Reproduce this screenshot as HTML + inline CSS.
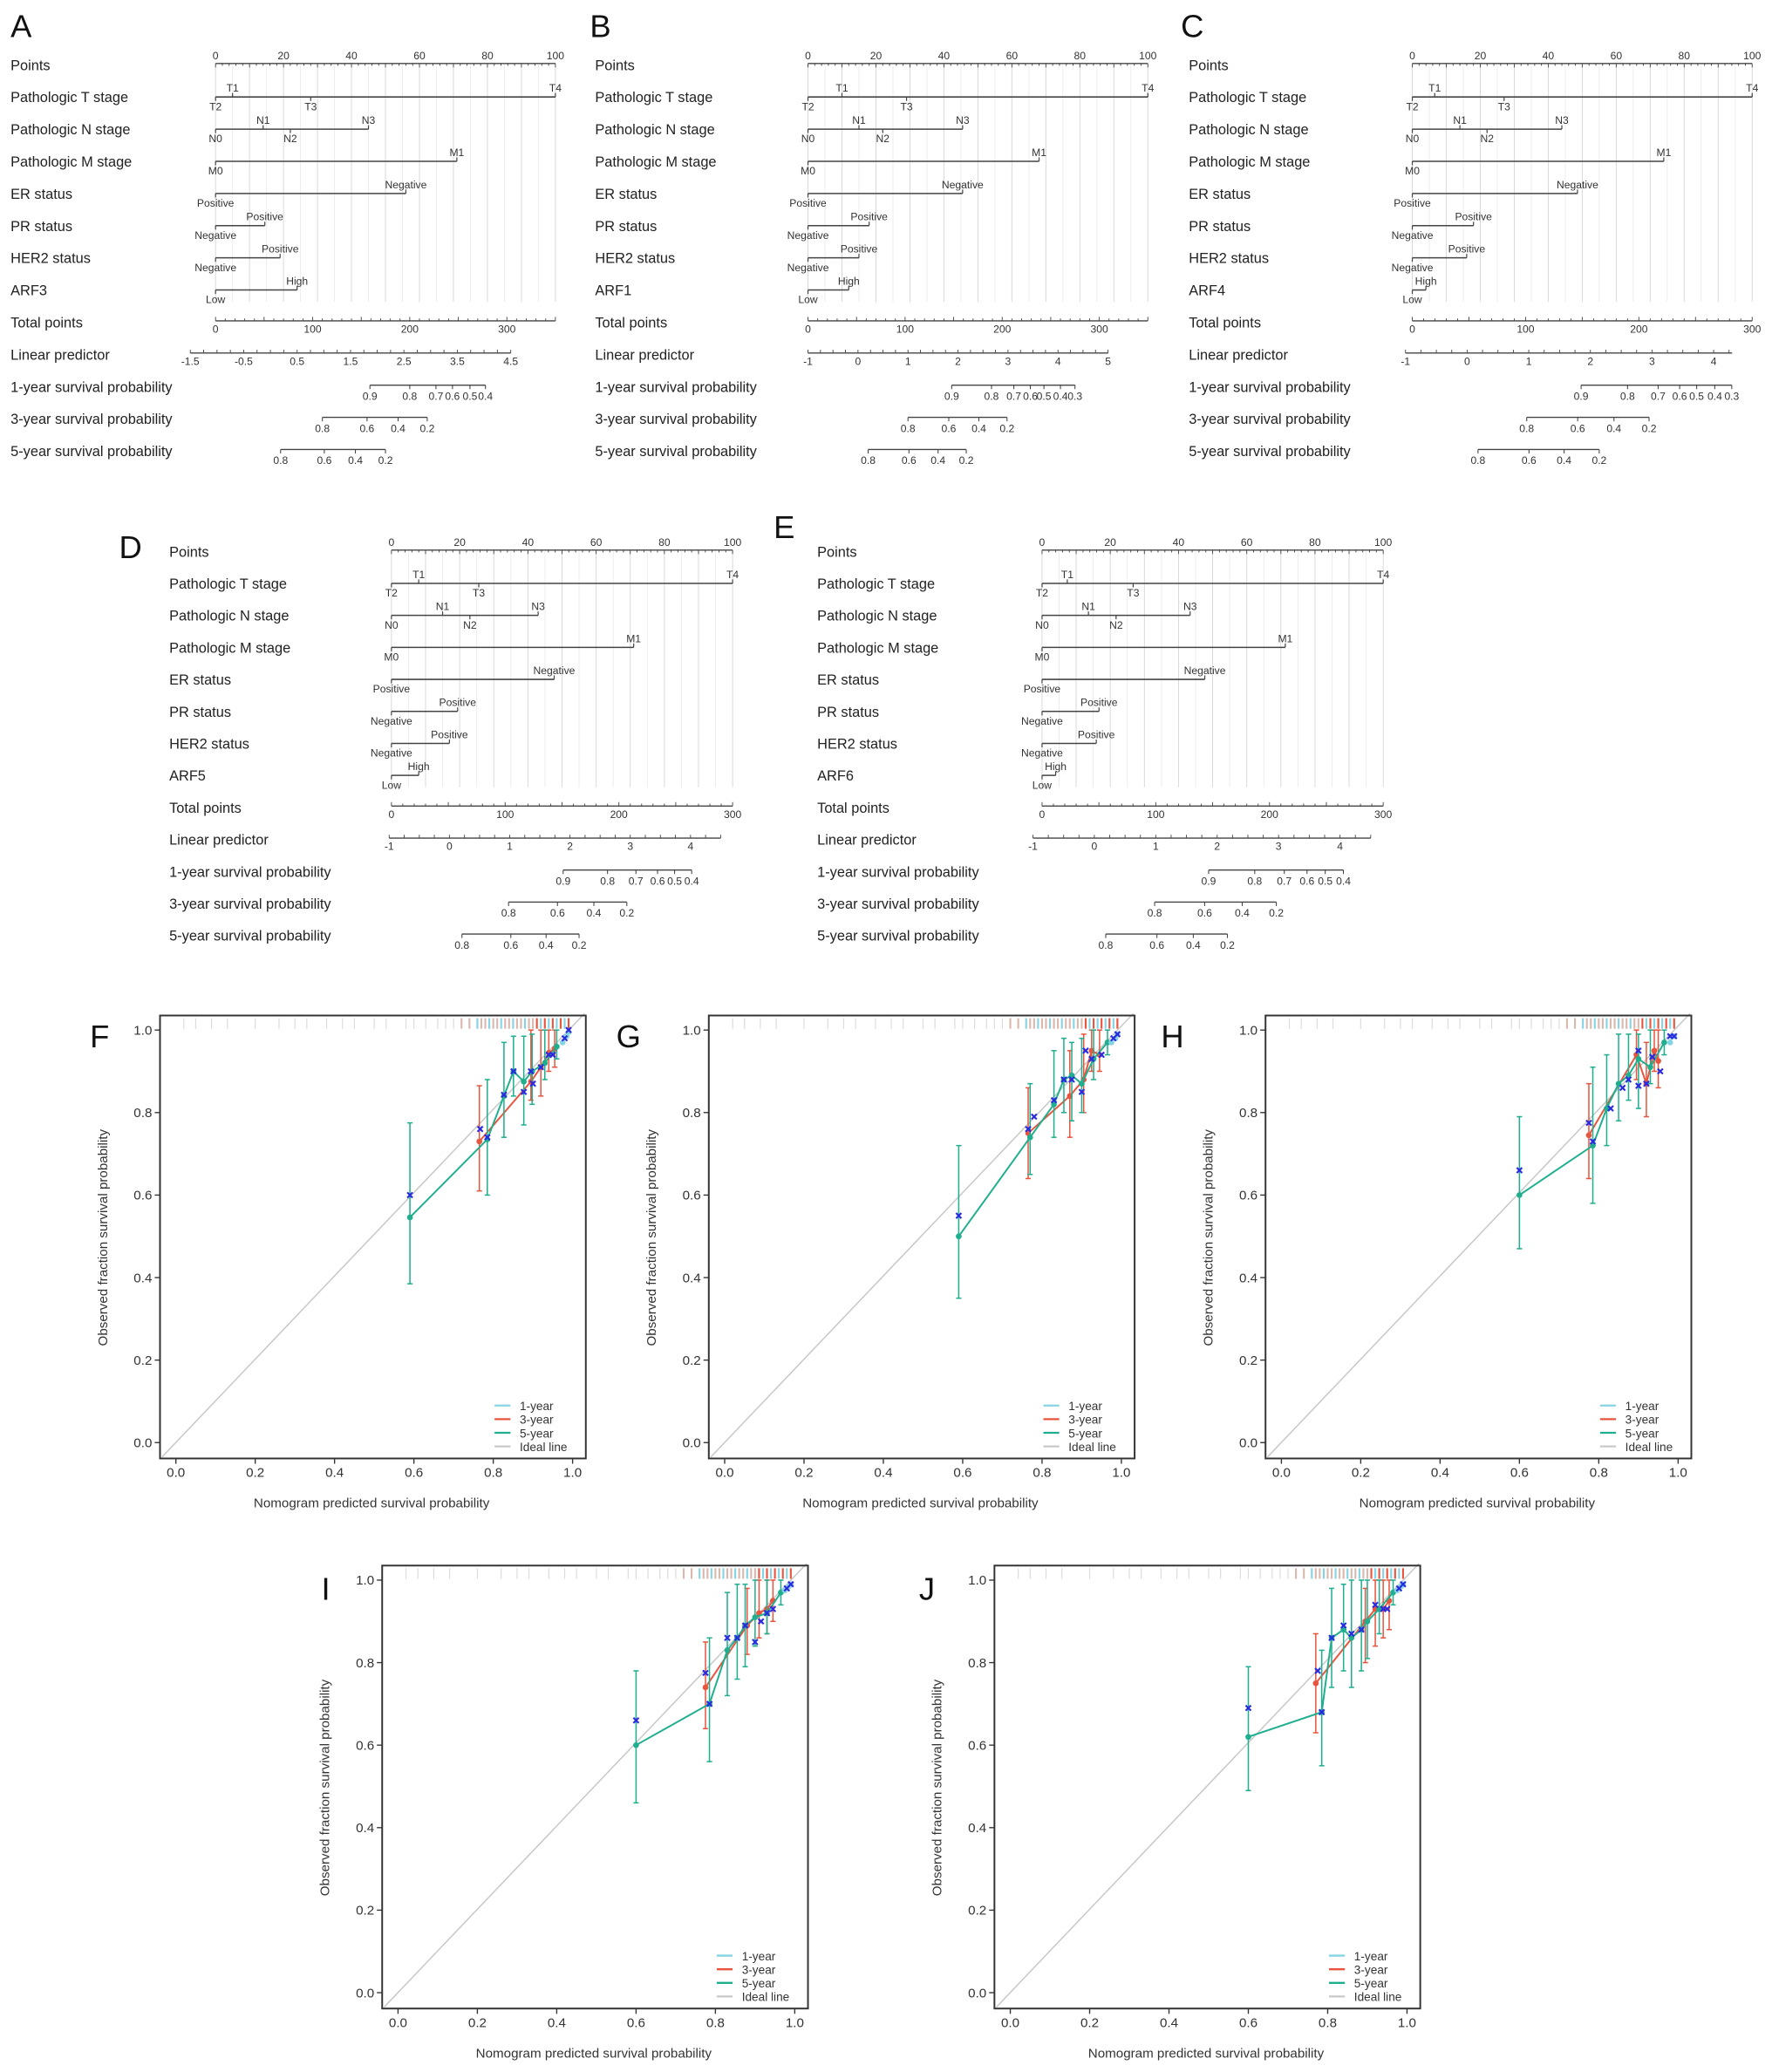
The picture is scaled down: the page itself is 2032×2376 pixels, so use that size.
<!DOCTYPE html>
<html><head><meta charset="utf-8"><style>
html,body{margin:0;padding:0;background:#fff}
svg{display:block;font-family:"Liberation Sans",sans-serif}
</style></head><body>
<svg id="fig" xmlns="http://www.w3.org/2000/svg" width="2032" height="2376" viewBox="0 0 1340 1567" preserveAspectRatio="none"></svg>
<script>
// ---------- Nomogram data ----------
const rowLabels = ["Points","Pathologic T stage","Pathologic N stage","Pathologic M stage","ER status","PR status","HER2 status","__ARF","Total points","Linear predictor","1-year survival probability","3-year survival probability","5-year survival probability"];
const tLevels = ["T2","T1","T3","T4"], tPos = ["b","a","b","a"];
const nLevels = ["N0","N1","N2","N3"], nPos = ["b","a","b","a"];
const mLevels = ["M0","M1"], mPos = ["b","a"];
const erLevels = ["Positive","Negative"], erPos = ["b","a"];
const prLevels = ["Negative","Positive"], prPos = ["b","a"];
const herLevels = ["Negative","Positive"], herPos = ["b","a"];
const arfLevels = ["Low","High"], arfPos = ["b","a"];
const panelNames = ["A","B","C","D","E"];
const arfNames = ["ARF3","ARF1","ARF4","ARF5","ARF6"];
const tPts = [[0,5,28,100],[0,10,29,100],[0,6.6,27,100],[0,8,25.6,100],[0,7.4,26.7,100]];
const nPts = [[0,14,22,45],[0,15,22,45.5],[0,14,22,44],[0,15,23,43],[0,13.6,21.7,43.4]];
const mPts = [[0,71],[0,68],[0,74],[0,71],[0,71.3]];
const erPts = [[0,56],[0,45.5],[0,48.6],[0,47.7],[0,47.7]];
const prPts = [[0,14.5],[0,18],[0,18],[0,19.4],[0,16.7]];
const herPts = [[0,19],[0,15],[0,16],[0,17],[0,15.9]];
const arfPts = [[0,24],[0,12],[0,4],[0,8],[0,4]];
const totalMax = [350,350,300,300,300];
const totalTicks = [[0,100,200,300],[0,100,200,300],[0,100,200,300],[0,100,200,300],[0,100,200,300]];
const lpLabels = [["-1.5","-0.5","0.5","1.5","2.5","3.5","4.5"],["-1","0","1","2","3","4","5"],["-1","0","1","2","3","4"],["-1","0","1","2","3","4"],["-1","0","1","2","3","4"]];
const lpRange = [[-1.5,4.5,-26,304],[-1,5,0,309],[-1,4,-6,266],[-1,4,-2,263],[-1,4,-8,262]];
const lpEnd = [4.5,5,4.3,4.5,4.5];
const s1Labels = [["0.9","0.8","0.7","0.6","0.5","0.4"],["0.9","0.8","0.7","0.6","0.5","0.4","0.3"],["0.9","0.8","0.7","0.6","0.5","0.4","0.3"],["0.9","0.8","0.7","0.6","0.5","0.4"],["0.9","0.8","0.7","0.6","0.5","0.4"]];
const s1Tot = [[159,200,227,244,262,278],[148,189,212,229,243,260,275],[149,190,217,236,251,267,282],[151,190,215,234,249,264],[146.5,187,213,233,249,265]];
const s3Labels = ["0.8","0.6","0.4","0.2"];
const s3Tot = [[110,156,188,218],[103,145,176,205],[101,146,178,209],[103,146,178,207],[99,143,176,206]];
const s5Labels = ["0.8","0.6","0.4","0.2"];
const s5Tot = [[67,112,144,175],[62,104,134,163],[58,103,134,165],[62,105,136,165],[56,101,133,163]];
const nomoLayout = [
 {lx:8,x0:163,x1:420,y0:49,dy:24.33,px:8,py:28},
 {lx:450,x0:611,x1:868,y0:49,dy:24.33,px:446,py:28},
 {lx:899,x0:1068,x1:1325,y0:49,dy:24.33,px:893,py:28},
 {lx:128,x0:296,x1:554,y0:417,dy:24.2,px:90,py:422},
 {lx:618,x0:788,x1:1046,y0:417,dy:24.2,px:585,py:407}];

// ---------- Calibration data ----------
const calNames = ["F","G","H","I","J"];
const g5x = [[0.59,0.785,0.827,0.851,0.877,0.898,0.93,0.96],[0.59,0.77,0.83,0.855,0.875,0.9,0.93,0.965],[0.6,0.785,0.82,0.85,0.875,0.9,0.93,0.965],[0.6,0.785,0.83,0.855,0.875,0.9,0.93,0.965],[0.6,0.785,0.81,0.84,0.86,0.885,0.9,0.93,0.965]];
const g5y = [[0.546,0.735,0.84,0.90,0.875,0.90,0.92,0.96],[0.5,0.74,0.82,0.88,0.89,0.87,0.93,0.97],[0.6,0.72,0.81,0.87,0.89,0.93,0.91,0.97],[0.6,0.70,0.83,0.86,0.89,0.91,0.92,0.97],[0.62,0.68,0.86,0.88,0.86,0.88,0.9,0.93,0.97]];
const g5lo = [[0.385,0.60,0.74,0.84,0.77,0.82,0.88,0.93],[0.35,0.65,0.74,0.8,0.78,0.8,0.88,0.94],[0.47,0.58,0.72,0.78,0.83,0.81,0.87,0.94],[0.46,0.56,0.72,0.76,0.79,0.84,0.87,0.94],[0.49,0.55,0.74,0.78,0.74,0.78,0.81,0.87,0.94]];
const g5hi = [[0.775,0.88,0.97,0.985,0.985,0.99,1.0,1.0],[0.72,0.87,0.95,0.98,0.97,0.98,1.0,1.0],[0.79,0.91,0.94,0.99,0.99,0.99,1.0,1.0],[0.78,0.86,0.97,0.99,0.99,1.0,1.0,1.0],[0.79,0.83,0.98,0.99,1.0,1.0,1.0,1.0,1.0]];
const r3x = [[0.765,0.895,0.92,0.94,0.955],[0.765,0.87,0.905,0.925,0.945],[0.775,0.895,0.92,0.94,0.95],[0.775,0.88,0.91,0.93,0.945],[0.77,0.895,0.92,0.94,0.955]];
const r3y = [[0.73,0.875,0.91,0.945,0.955],[0.75,0.84,0.88,0.95,0.94],[0.745,0.94,0.87,0.95,0.925],[0.74,0.89,0.92,0.93,0.95],[0.75,0.9,0.93,0.93,0.95]];
const r3lo = [[0.61,0.83,0.84,0.9,0.91],[0.64,0.74,0.8,0.9,0.9],[0.64,0.88,0.79,0.9,0.86],[0.64,0.82,0.86,0.87,0.9],[0.63,0.8,0.84,0.86,0.88]];
const r3hi = [[0.865,1.0,1.0,1.0,1.0],[0.86,0.95,0.99,1.0,1.0],[0.87,1.0,0.97,1.0,1.0],[0.85,0.98,1.0,1.0,1.0],[0.87,0.98,1.0,1.0,1.0]];
const c1x = [[0.975,0.985,0.99],[0.975,0.985,0.99],[0.98,0.985,0.99],[0.975,0.985,0.99],[0.975,0.985,0.99]];
const c1y = [[0.97,0.985,0.995],[0.97,0.98,0.99],[0.97,0.985,0.985],[0.975,0.985,0.99],[0.975,0.985,0.99]];
const bxv = [[0.59,0.767,0.785,0.827,0.851,0.877,0.895,0.90,0.92,0.94,0.95,0.98,0.99],[0.59,0.765,0.78,0.83,0.855,0.875,0.9,0.91,0.925,0.95,0.98,0.99],[0.6,0.775,0.785,0.83,0.86,0.875,0.9,0.9,0.92,0.935,0.955,0.98,0.99],[0.6,0.775,0.785,0.83,0.855,0.875,0.9,0.915,0.93,0.945,0.98,0.99],[0.6,0.775,0.785,0.81,0.84,0.86,0.885,0.92,0.94,0.95,0.98,0.99]];
const byv = [[0.6,0.76,0.74,0.843,0.9,0.85,0.9,0.87,0.91,0.94,0.94,0.98,1.0],[0.55,0.76,0.79,0.83,0.88,0.88,0.85,0.95,0.93,0.94,0.98,0.99],[0.66,0.775,0.73,0.81,0.86,0.88,0.95,0.865,0.87,0.935,0.9,0.985,0.985],[0.66,0.775,0.70,0.86,0.86,0.89,0.85,0.9,0.92,0.93,0.98,0.99],[0.69,0.78,0.68,0.86,0.89,0.87,0.88,0.94,0.93,0.93,0.98,0.99]];
const rugX = [0.02,0.05,0.09,0.13,0.2,0.26,0.3,0.33,0.38,0.42,0.45,0.5,0.53,0.58,0.6,0.63,0.66,0.68,0.7,0.72,0.74,0.76,0.77,0.78,0.79,0.8,0.81,0.82,0.83,0.84,0.85,0.86,0.87,0.88,0.89,0.9,0.91,0.92,0.93,0.94,0.95,0.96,0.97,0.98,0.99];
const calTicks = ["0.0","0.2","0.4","0.6","0.8","1.0"];
const calLayout = [{bx:121,by:768,lx:68,ly:772},{bx:536,by:768,lx:466,ly:772},{bx:957,by:768,lx:878,ly:772},{bx:289,by:1184,lx:243,ly:1190},{bx:752,by:1184,lx:695,ly:1190}];

const NS="http://www.w3.org/2000/svg";
const svg=document.getElementById('fig');
function mk(tag,attrs,parent,txt){const e=document.createElementNS(NS,tag);for(const k in attrs)e.setAttribute(k,attrs[k]);if(txt!==undefined)e.textContent=txt;(parent||svg).appendChild(e);return e;}
function line(p,x1,y1,x2,y2,st,w){return mk('line',{x1,y1,x2,y2,stroke:st||'#444','stroke-width':w||0.8},p);}

panelNames.forEach((pn,i)=>{
  const L=nomoLayout[i];
  const g=mk('g',{});
  
  
  const t=mk('text',{x:L.px,y:L.py,'font-size':24,fill:'#111'},g,pn);
  
  
  const pX=v=>L.x0+(L.x1-L.x0)*v/100;
  const tX=v=>L.x0+(L.x1-L.x0)*v/totalMax[i];
  const rowY=k=>L.y0+k*L.dy;
  rowLabels.forEach((r,k)=>{
    const lab=mk('text',{x:L.lx,y:rowY(k)+4,'font-size':10.8,fill:'#222'},g,r==='__ARF'?arfNames[i]:r);
    
    
  });
  for(let v=0;v<=100;v+=5){line(g,pX(v),rowY(0),pX(v),rowY(7)+9,v%10===0?'#d6d6d6':'#ebebeb',0.6);}
  const ay=rowY(0)-1;
  line(g,pX(0),ay,pX(100),ay,'#444',0.9);
  for(let v=0;v<=100;v+=2){line(g,pX(v),ay,pX(v),ay+(v%10===0?3:1.8),'#444',0.6);}
  for(let v=0;v<=100;v+=20){mk('text',{x:pX(v),y:ay-3,'font-size':8,'text-anchor':'middle',fill:'#333'},g,String(v));}
  const vars=[[tLevels,tPos,tPts[i]],[nLevels,nPos,nPts[i]],[mLevels,mPos,mPts[i]],[erLevels,erPos,erPts[i]],[prLevels,prPos,prPts[i]],[herLevels,herPos,herPts[i]],[arfLevels,arfPos,arfPts[i]]];
  vars.forEach((vv,j)=>{
    const y=rowY(j+1);
    const pts=vv[2];
    const mn=Math.min(...pts),mx=Math.max(...pts);
    const bar=line(g,pX(mn),y,pX(mx),y,'#444',1);
    
    
    vv[0].forEach((lv,m)=>{
      const x=pX(pts[m]);
      const up=vv[1][m]==='a';
      line(g,x,y,x,up?y-3:y+3,'#444',0.8);
      mk('text',{x:x,y:up?y-4:y+10,'font-size':8,'text-anchor':'middle',fill:'#333'},g,lv);
    });
  });
  const ty=rowY(8)-1;
  line(g,tX(0),ty,tX(totalMax[i]),ty,'#444',0.9);
  for(let v=0;v<=totalMax[i];v+=10){line(g,tX(v),ty,tX(v),ty-(v%50===0?3:1.8),'#444',0.6);}
  totalTicks[i].forEach(v=>mk('text',{x:tX(v),y:ty+9,'font-size':8,'text-anchor':'middle',fill:'#333'},g,String(v)));
  const lr=lpRange[i];
  const lX=v=>tX(lr[2]+(v-lr[0])*(lr[3]-lr[2])/(lr[1]-lr[0]));
  const ly=rowY(9)-1;
  line(g,lX(lr[0]),ly,lX(lpEnd[i]),ly,'#444',0.9);
  const step=(lr[1]-lr[0])/(lpLabels[i].length-1);
  for(let v=lr[0];v<=lpEnd[i]+1e-9;v+=step/4){line(g,lX(v),ly,lX(v),ly-2.5,'#444',0.6);}
  lpLabels[i].forEach(s=>mk('text',{x:lX(parseFloat(s)),y:ly+9,'font-size':8,'text-anchor':'middle',fill:'#333'},g,s));
  [[s1Labels[i],s1Tot[i]],[s3Labels,s3Tot[i]],[s5Labels,s5Tot[i]]].forEach((sv,j)=>{
    const y=rowY(10+j)-1;
    const xs=sv[1].map(tX);
    const ax=line(g,xs[0],y,xs[xs.length-1],y,'#444',0.9);
    
    
    sv[0].forEach((s,m)=>{line(g,xs[m],y,xs[m],y+3,'#444',0.7);mk('text',{x:xs[m],y:y+11,'font-size':8,'text-anchor':'middle',fill:'#333'},g,s);});
  });
});

const colC='#86d4e3',colR='#e8553f',colG='#1fae8e',colI='#c8c8c8',colB='#2a2ae0';
calNames.forEach((cn,i)=>{
  const L=calLayout[i];
  const g=mk('g',{});
  
  
  const X=v=>L.bx+12+v*300, Y=v=>L.by+323-v*312;
  const t=mk('text',{x:L.lx,y:L.ly+20,'font-size':24,fill:'#111'},g,cn);
  
  
  const il=line(g,X(-0.035),Y(-0.035),X(1.03),Y(1.04),colI,1);
  
  
  rugX.forEach((v,k)=>{const c=v>0.9?(k%2?colC:colR):(v>0.7?(k%3===0?colC:'#d9b8ae'):'#dcdcdc');line(g,X(v),L.by+2,X(v),L.by+10,c,v>0.7?1.4:0.8);});
  function series(xs,ys,lo,hi,col,name){
    const sg=mk('g',{},g);
    
    
    if(lo){xs.forEach((x,k)=>{line(sg,X(x),Y(lo[k]),X(x),Y(hi[k]),col,1);line(sg,X(x)-2,Y(lo[k]),X(x)+2,Y(lo[k]),col,1);line(sg,X(x)-2,Y(hi[k]),X(x)+2,Y(hi[k]),col,1);});}
    mk('polyline',{points:xs.map((x,k)=>X(x)+','+Y(ys[k])).join(' '),fill:'none',stroke:col,'stroke-width':1.3},sg);
    xs.forEach((x,k)=>mk('circle',{cx:X(x),cy:Y(ys[k]),r:2.2,fill:col},sg));
  }
  series(r3x[i],r3y[i],r3lo[i],r3hi[i],colR,'series-3-year');
  series(g5x[i],g5y[i],g5lo[i],g5hi[i],colG,'series-5-year');
  series(c1x[i],c1y[i],null,null,colC,'series-1-year');
  bxv[i].forEach((x,k)=>{const cx=X(x),cy=Y(byv[i][k]);const m=mk('g',{},g);line(m,cx-2,cy-2,cx+2,cy+2,colB,1.4);line(m,cx-2,cy+2,cx+2,cy-2,colB,1.4);});
  mk('rect',{x:L.bx,y:L.by,width:322,height:335,fill:'none',stroke:'#333','stroke-width':1.3},g);
  calTicks.forEach(s=>{const v=parseFloat(s);
    line(g,X(v),L.by+335,X(v),L.by+339,'#333',0.9);
    mk('text',{x:X(v),y:L.by+349,'font-size':10,'text-anchor':'middle',fill:'#333'},g,s);
    line(g,L.bx-4,Y(v),L.bx,Y(v),'#333',0.9);
    mk('text',{x:L.bx-6,y:Y(v)+3.5,'font-size':10,'text-anchor':'end',fill:'#333'},g,s);
  });
  const xt=mk('text',{x:L.bx+160,y:L.by+372,'font-size':10,'text-anchor':'middle',fill:'#333'},g,'Nomogram predicted survival probability');
  
  const yx=L.bx-40,yy=L.by+168;
  const yt=mk('text',{x:yx,y:yy,'font-size':10,'text-anchor':'middle',fill:'#333',transform:`rotate(-90 ${yx} ${yy})`},g,'Observed fraction survival probability');
  
  const lg=mk('g',{},g);
  
  
  [['1-year',colC],['3-year',colR],['5-year',colG],['Ideal line',colI]].forEach((e,k)=>{
    const y=L.by+295+k*10.3;
    line(lg,L.bx+253,y,L.bx+265,y,e[1],1.5);
    mk('text',{x:L.bx+272,y:y+3.5,'font-size':9,fill:'#333'},lg,e[0]);
  });
});
</script>
</body></html>
